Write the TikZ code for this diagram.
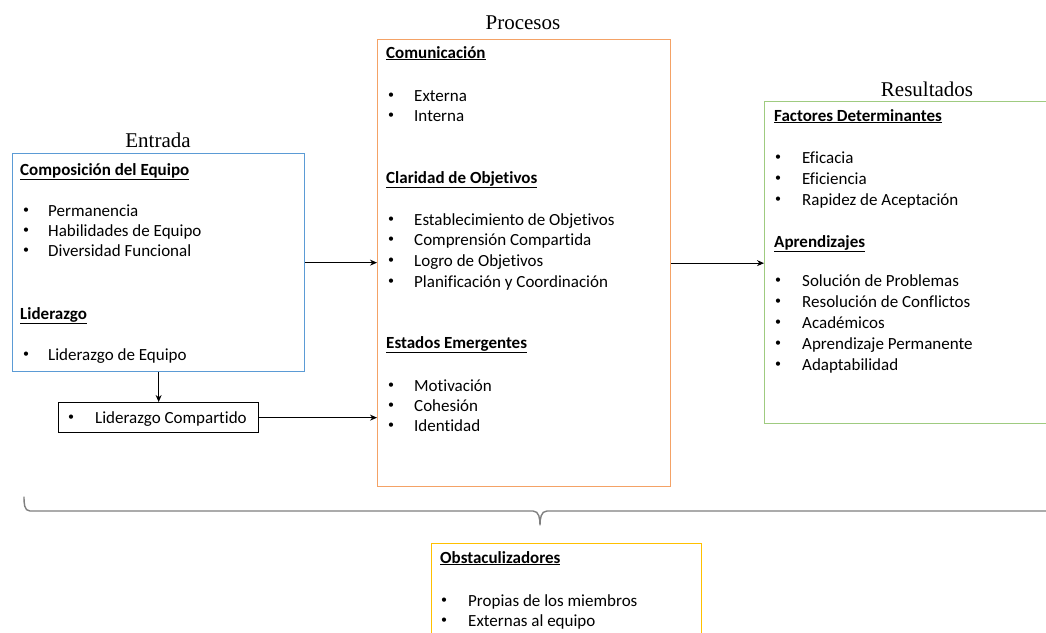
\documentclass[tikz,border=0pt]{standalone}
\usepackage{fontspec}
\setmainfont{Carlito}[Ligatures=NoCommon]
\newfontfamily\titlefont{Liberation Serif}
\usetikzlibrary{arrows.meta}
\definecolor{inBlue}{HTML}{5B9BD5}
\definecolor{procOrange}{HTML}{F4A266}
\definecolor{resGreen}{HTML}{9FCB80}
\definecolor{obsGold}{HTML}{FFC000}
\definecolor{braceGrey}{HTML}{7F7F7F}
\newcommand{\headtxt}[1]{\textbf{\underline{#1}}}
\tikzset{
  panel/.style={draw, line width=1.3pt, inner sep=0pt, anchor=north west},
  txt/.style={anchor=base west, inner sep=0pt, font=\fontsize{17}{20}\selectfont},
  bul/.style={anchor=base west, inner sep=0pt, font=\fontsize{12}{12}\selectfont, yshift=2.5pt},
  ttl/.style={anchor=base, inner sep=0pt, font=\titlefont\fontsize{21}{24}\selectfont},
  link/.style={line width=0.9pt, -{Stealth[length=7pt,width=6pt]}}
}
\begin{document}
\begin{tikzpicture}[x=1pt,y=-1pt]
\clip (0,0) rectangle (1046,632);
\fill[white] (0,0) rectangle (1046,632);

% boxes
\node[panel, draw=inBlue, minimum width=292pt, minimum height=218pt] (entrada) at (12,153) {};
\node[panel, draw=black, minimum width=200pt, minimum height=30pt] (lc) at (58,402) {};
\node[panel, draw=procOrange, minimum width=293pt, minimum height=447pt] (procesos) at (377,39) {};
\node[panel, draw=resGreen, minimum width=320pt, minimum height=322pt] (resultados) at (764,101) {};
\node[panel, draw=obsGold, minimum width=270pt, minimum height=120pt] (obst) at (431,543) {};

% titles
\node[ttl] (tEntrada) at (158,147) {Entrada};
\node[ttl] (tProcesos) at (523,29) {Procesos};
\node[ttl] (tResultados) at (927,96) {Resultados};

% input panel
\node[txt] (h1) at (20,175) {\headtxt{Composición del Equipo}};
\node[bul] (b11) at (23,216) {•};  \node[txt] (i11) at (48,216) {Permanencia};
\node[bul] (b12) at (23,236) {•};  \node[txt] (i12) at (48,236) {Habilidades de Equipo};
\node[bul] (b13) at (23,256) {•};  \node[txt] (i13) at (48,256) {Diversidad Funcional};
\node[txt] (h2) at (20,319) {\headtxt{Liderazgo}};
\node[bul] (b21) at (23,360) {•};  \node[txt] (i21) at (48,360) {Liderazgo de Equipo};
\node[bul] (b31) at (68,423) {•};  \node[txt] (i31) at (95,423) {Liderazgo Compartido};

% process panel
\node[txt] (h3) at (386,58) {\headtxt{Comunicación}};
\node[bul] (b41) at (388,101) {•}; \node[txt] (i41) at (414,101) {Externa};
\node[bul] (b42) at (388,121) {•}; \node[txt] (i42) at (414,121) {Interna};
\node[txt] (h4) at (386,183) {\headtxt{Claridad de Objetivos}};
\node[bul] (b51) at (388,225) {•}; \node[txt] (i51) at (414,225) {Establecimiento de Objetivos};
\node[bul] (b52) at (388,245) {•}; \node[txt] (i52) at (414,245) {Comprensión Compartida};
\node[bul] (b53) at (388,266) {•}; \node[txt] (i53) at (414,266) {Logro de Objetivos};
\node[bul] (b54) at (388,287) {•}; \node[txt] (i54) at (414,287) {Planificación y Coordinación};
\node[txt] (h5) at (386,348) {\headtxt{Estados Emergentes}};
\node[bul] (b61) at (388,391) {•}; \node[txt] (i61) at (414,391) {Motivación};
\node[bul] (b62) at (388,411) {•}; \node[txt] (i62) at (414,411) {Cohesión};
\node[bul] (b63) at (388,431) {•}; \node[txt] (i63) at (414,431) {Identidad};

% results panel
\node[txt] (h6) at (774,121) {\headtxt{Factores Determinantes}};
\node[bul] (b71) at (775,163) {•}; \node[txt] (i71) at (802,163) {Eficacia};
\node[bul] (b72) at (775,184) {•}; \node[txt] (i72) at (802,184) {Eficiencia};
\node[bul] (b73) at (775,205) {•}; \node[txt] (i73) at (802,205) {Rapidez de Aceptación};
\node[txt] (h7) at (774,247) {\headtxt{Aprendizajes}};
\node[bul] (b81) at (775,286) {•}; \node[txt] (i81) at (802,286) {Solución de Problemas};
\node[bul] (b82) at (775,307) {•}; \node[txt] (i82) at (802,307) {Resolución de Conflictos};
\node[bul] (b83) at (775,328) {•}; \node[txt] (i83) at (802,328) {Académicos};
\node[bul] (b84) at (775,349) {•}; \node[txt] (i84) at (802,349) {Aprendizaje Permanente};
\node[bul] (b85) at (775,370) {•}; \node[txt] (i85) at (802,370) {Adaptabilidad};

% hindering factors panel
\node[txt] (h8) at (440,563) {\headtxt{Obstaculizadores}};
\node[bul] (b91) at (441,606) {•}; \node[txt] (i91) at (468,606) {Propias de los miembros};
\node[bul] (b92) at (441,626) {•}; \node[txt] (i92) at (468,626) {Externas al equipo};

% connectors
\draw[link] (entrada.south) -- (lc.north);
\draw[link] (entrada.east) -- (entrada.east -| procesos.west);
\draw[link] (lc.east) -- (lc.east -| procesos.west);
\draw[link] (procesos.east) -- (procesos.east -| resultados.west);

% brace spanning the three stages
\coordinate (brL) at (24,497);
\coordinate (brTip) at (540,525);
\coordinate (brR) at (1060,511);
\draw[braceGrey, line width=1.4pt, line cap=round]
  (brL) to[out=-90,in=180] (30,511) -- (533,511) to[out=0,in=90] (brTip)
  (brR) -- (547,511) to[out=180,in=90] (brTip);
\end{tikzpicture}
\end{document}
